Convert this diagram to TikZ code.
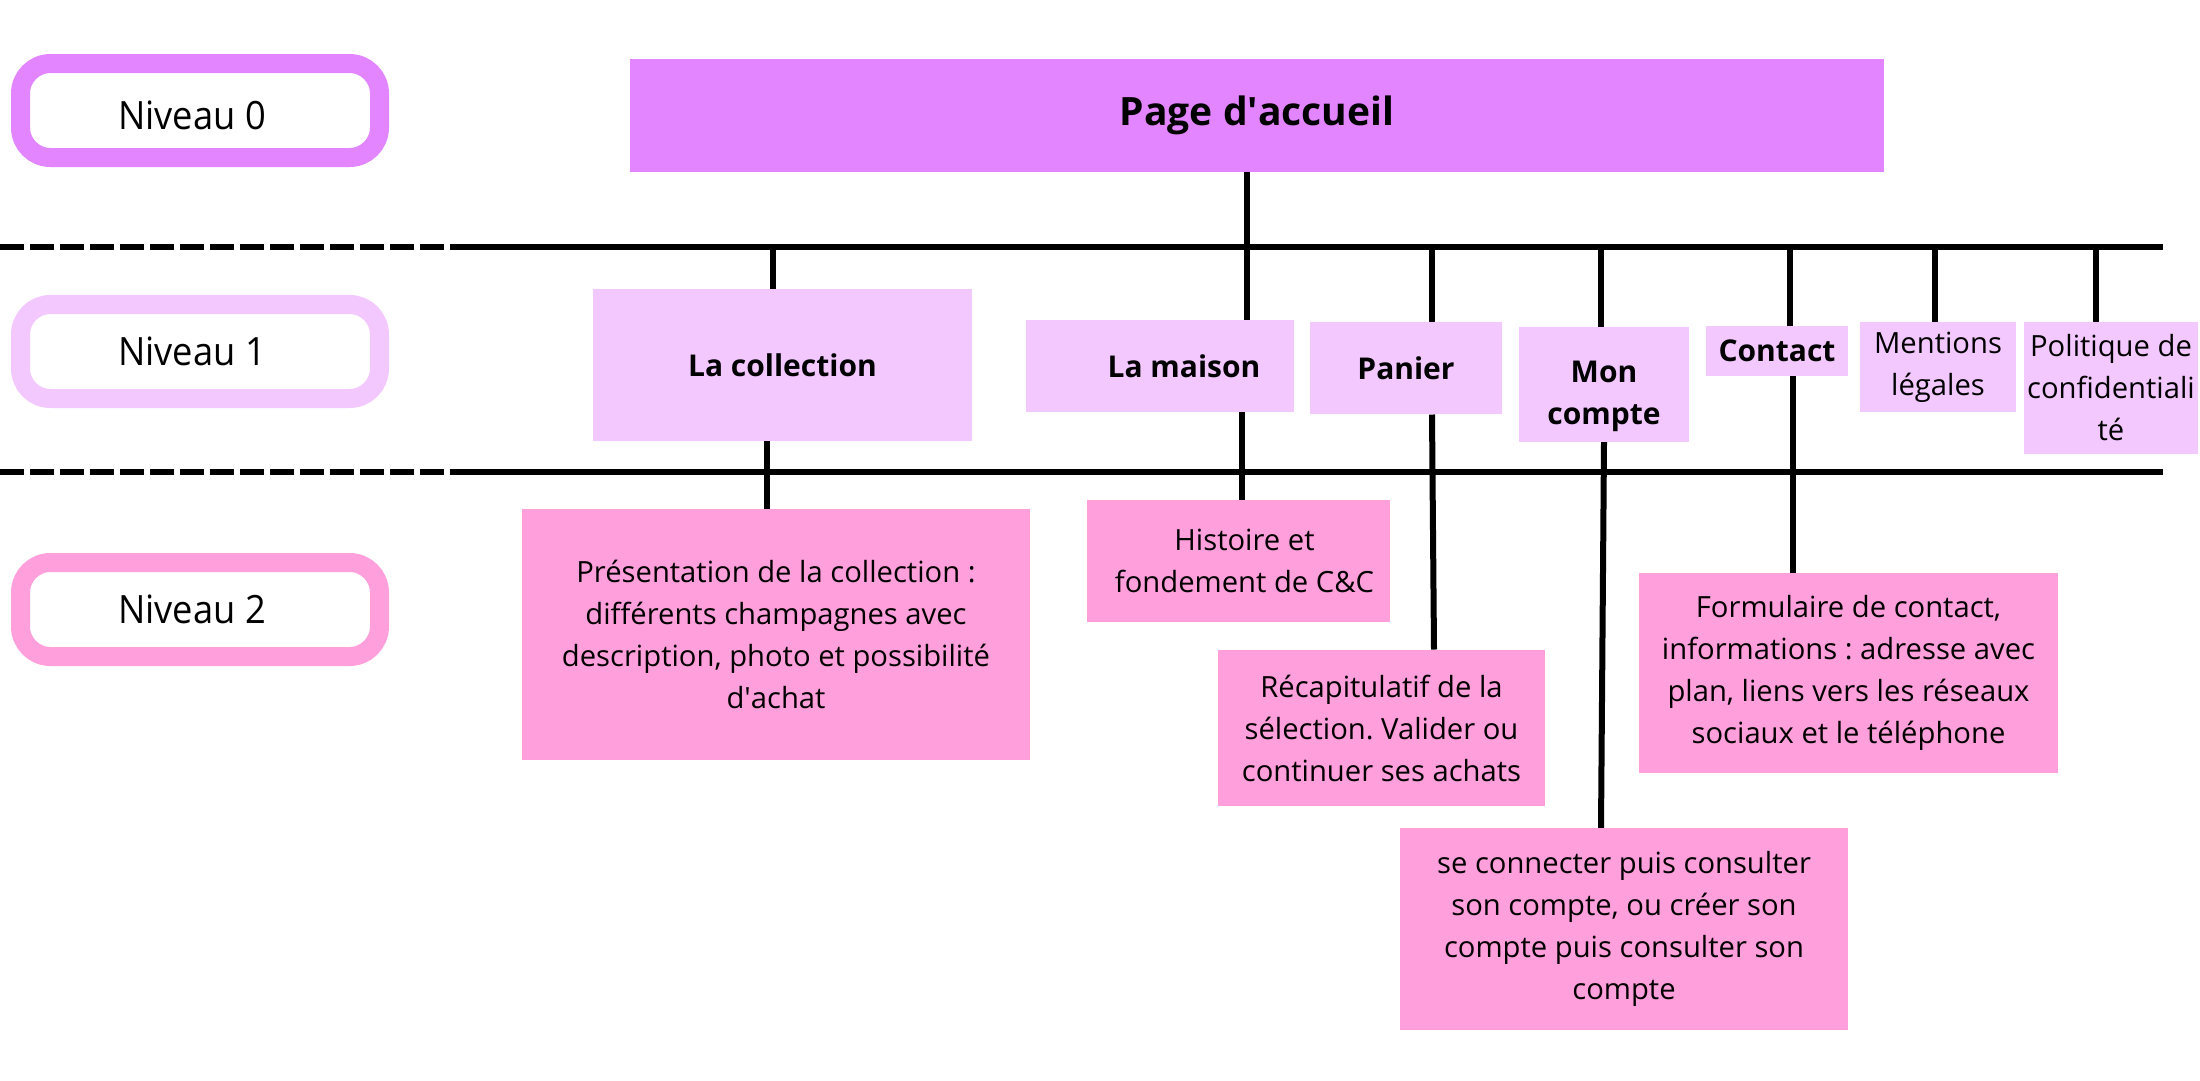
\documentclass[tikz,border=0pt]{standalone}
\usepackage{fontspec}
\setmainfont{Open Sans}
\newfontfamily\etroit{Open Sans}[FakeStretch=0.93]
\usetikzlibrary{positioning}
\definecolor{nivzero}{RGB}{226,133,255}
\definecolor{nivun}{RGB}{242,200,255}
\definecolor{nivdeux}{RGB}{255,159,219}
\tikzset{
    lvl/.style={draw, line width=19pt, rounded corners=30pt, fill=white, minimum width=359pt, minimum height=94pt, font=\etroit\fontsize{39}{46}\selectfont},
    pg/.style={fill=nivzero, minimum width=1254pt, minimum height=113pt, font=\bfseries\fontsize{39}{46}\selectfont},
    boxa/.style={fill=nivun, align=center, inner sep=0pt, font=\bfseries\fontsize{30}{42}\selectfont},
    boxb/.style={fill=nivdeux, align=center, inner sep=0pt, font=\fontsize{29.2}{42}\selectfont},
    thin/.style={font=\fontsize{29.2}{42}\selectfont},
    link/.style={line width=6pt},
    rail/.style={line width=6.5pt}
}

\begin{document}
\frenchspacing
\begin{tikzpicture}[x=1pt, y=-1pt]
    \useasboundingbox[fill=white] (0,0) rectangle (2200,1080);

    % niveaux
    \node[lvl, draw=nivzero] (niv0) at (200,110.5) {\rule{0pt}{38pt}\hspace*{-16pt}Niveau 0};
    \node[lvl, draw=nivun] (niv1) at (200,351.5) {\hspace*{-16pt}Niveau 1};
    \node[lvl, draw=nivdeux] (niv2) at (200,609.5) {\hspace*{-16pt}Niveau 2};

    % rails
    \coordinate (r1w) at (0,247);
    \coordinate (r1m) at (450,247);
    \coordinate (r1e) at (2163,247);
    \coordinate (r2w) at (0,472);
    \coordinate (r2m) at (450,472);
    \coordinate (r2e) at (2163,472);
    \draw[rail, dash pattern=on 24pt off 6pt] (r1w) -- (r1m);
    \draw[rail] (r1m) -- (r1e);
    \draw[rail, dash pattern=on 24pt off 6pt] (r2w) -- (r2m);
    \draw[rail] (r2m) -- (r2e);

    % niveau 0
    \node[pg] (page) at (1257,115) {Page d\textquotesingle accueil};

    % niveau 1
    \node[boxa, minimum width=379pt, minimum height=152.5pt] (collection) at (782.5,365) {La collection};
    \node[boxa, minimum width=268pt, minimum height=91.5pt] (maison) at (1160,366) {\hspace*{48pt}La maison};
    \node[boxa, minimum width=192pt, minimum height=92.6pt] (panier) at (1406,368) {Panier};
    \node[boxa, minimum width=170pt, minimum height=115pt] (compte) at (1604,384.5) {\rule{0pt}{45pt}Mon\\compte};
    \node[boxa, minimum width=142pt, minimum height=49.5pt] (contact) at (1777,351) {Contact};
    \node[boxa, thin, minimum width=156pt, minimum height=89.5pt] (mentions) at (1938,367) {Mentions\\légales};
    \node[boxa, thin, minimum width=174pt, minimum height=132pt] (politique) at (2111,388) {Politique de\\confidentiali\\té};

    % niveau 2
    \node[boxb, minimum width=508pt, minimum height=251pt] (presentation) at (776,634.5) {Présentation de la collection :\\différents champagnes avec\\description, photo et possibilité\\d\textquotesingle achat};
    \node[boxb, minimum width=303pt, minimum height=122pt] (histoire) at (1238.5,561) {\hspace*{12pt}Histoire et\\\hspace*{12pt}fondement de C\&C};
    \node[boxb, minimum width=327pt, minimum height=156.6pt] (recap) at (1381.5,728) {Récapitulatif de la\\sélection. Valider ou\\continuer ses achats};
    \node[boxb, minimum width=419pt, minimum height=199.6pt] (formulaire) at (1848.5,673) {Formulaire de contact,\\informations : adresse avec\\plan, liens vers les réseaux\\sociaux et le téléphone};
    \node[boxb, minimum width=448.5pt, minimum height=202pt] (connexion) at (1624,929) {se connecter puis consulter\\son compte, ou créer son\\compte puis consulter son\\compte};

    % liens
    \draw[link] ([xshift=-10pt]page.south) -- ([xshift=-10pt]page.south |- maison.north);
    \foreach \n/\s in {collection/-9.5, panier/26, compte/-3, contact/13, mentions/-3, politique/-15}
        \draw[link] ([xshift=\s pt]\n.north) -- ([xshift=\s pt]\n.north |- r1w);
    \draw[link] ([xshift=-15.5pt]collection.south) -- ([xshift=-9pt]presentation.north);
    \draw[link] ([xshift=82pt]maison.south) -- ([xshift=3.5pt]histoire.north);
    \draw[link] ([xshift=26pt]panier.south) -- ([xshift=52.5pt]recap.north);
    \draw[link] (compte.south) -- ([xshift=-23pt]connexion.north);
    \draw[link] ([xshift=16pt]contact.south) -- ([xshift=-55.5pt]formulaire.north);
\end{tikzpicture}
\end{document}
